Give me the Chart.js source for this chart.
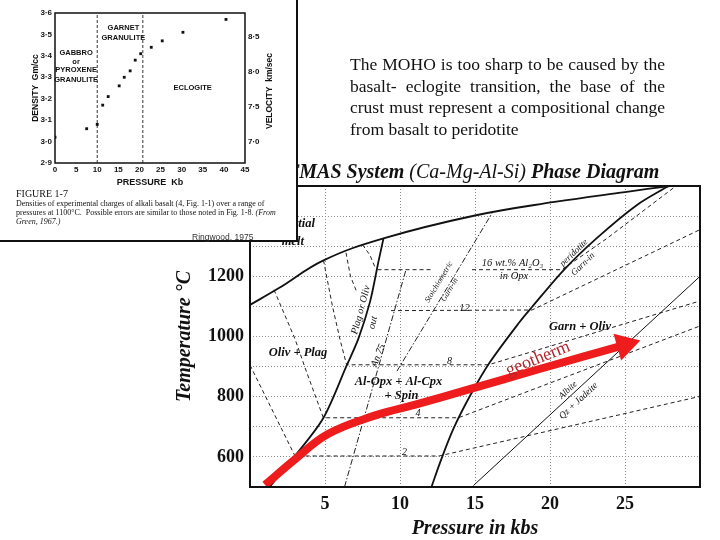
<!DOCTYPE html>
<html>
<head>
<meta charset="utf-8">
<title>MOHO - CMAS phase diagram</title>
<script src="https://cdn.jsdelivr.net/npm/chart.js@4.4.1/dist/chart.umd.min.js"></script>
<style>
  html, body { margin: 0; padding: 0; background: #fff; }
  #page { position: relative; width: 720px; height: 540px; overflow: hidden; font-family: "Liberation Serif", "Times New Roman", serif; color: #111; }
  #phase { position: absolute; left: 0; top: 0; }
  #phaseTitle { position: absolute; left: 286px; top: 161px; font: italic bold 20px/20px "Liberation Serif", serif; white-space: nowrap; }
  #phaseTitle span { font-weight: normal; }
  #note { position: absolute; left: 350px; top: 54px; width: 315px; font-size: 17.5px; line-height: 21.7px; }
  #note div { text-align: justify; text-align-last: justify; }
  #note div.last { text-align-last: left; }
  #inset { position: absolute; left: 0; top: 0; width: 296px; height: 240px; background: #fff; border-right: 2px solid #111; border-bottom: 2px solid #111; }
  #density { position: absolute; left: 0; top: 0; }
  #figNo { position: absolute; left: 16px; top: 188px; font: 10px/12px "Liberation Serif", serif; }
  #caption { position: absolute; left: 16px; top: 199px; font: 8px/9px "Liberation Serif", serif; white-space: nowrap; }
  #credit { position: absolute; left: 192px; top: 232px; font: 8.5px/10px "Liberation Sans", sans-serif; color: #333; }
</style>
</head>
<body>
<div id="page">
  <canvas id="phase" width="720" height="540"></canvas>
  <div id="phaseTitle">CMAS System <span>(Ca-Mg-Al-Si)</span> Phase Diagram</div>
  <div id="note">
    <div>The MOHO is too sharp to be caused by the</div>
    <div>basalt- eclogite transition, the base of the</div>
    <div>crust must represent a compositional change</div>
    <div class="last">from basalt to peridotite</div>
  </div>
  <div id="inset">
    <canvas id="density" width="296" height="190"></canvas>
    <div id="figNo">FIGURE 1-7</div>
    <div id="caption">Densities of experimental charges of alkali basalt (4, Fig. 1-1) over a range of<br>pressures at 1100°C.&nbsp; Possible errors are similar to those noted in Fig. 1-8. <i>(From</i><br><i>Green, 1967.)</i></div>
    <div id="credit">Ringwood, 1975</div>
  </div>
</div>
<script>
const SERIF = '"Liberation Serif", "Times New Roman", serif';
const SANS = '"Liberation Sans", Arial, sans-serif';
const INK = '#111';
const RED = '#ee1c1c';

// inset (Ringwood 1975, fig 1-7): density of alkali basalt vs pressure
const pressureKb = [0, 7.5, 10, 11.3, 12.6, 15.2, 16.4, 17.8, 19, 20.3, 22.8, 25.4, 30.3, 40.5];
const densityGcc = [3.02, 3.06, 3.08, 3.17, 3.21, 3.26, 3.30, 3.33, 3.38, 3.41, 3.44, 3.47, 3.51, 3.57];
const fieldLimitsKb = [10, 20.8];
const velocityTicks = [7.0, 7.5, 8.0, 8.5];

// CMAS phase diagram, [pressure kb, temperature C]
const solidus = [[0, 1105], [1.9, 1160], [4.9, 1253], [8.9, 1326], [15, 1402], [20.3, 1447], [25, 1480], [28, 1500]];
const plagOut = [[8.9, 1326], [8.56, 1248], [8.0, 1115], [7.22, 992], [6.44, 903], [4.89, 729], [3.0, 603], [1.3, 500]];
const garnIn = [[12.1, 500], [12.67, 581], [13.55, 692], [14.67, 803], [16, 915], [18, 1050], [18.8, 1098], [20.9, 1220], [23.1, 1326], [25.8, 1437], [27.9, 1500]];
const albiteOut = [[14.9, 505], [30, 1200]];
const an75 = [[6.3, 500], [10.4, 1222]];
const stoichGarnIn = [[9.8, 885], [16.2, 1415]];
// Al2O3 isopleths in opx, wt%
const iso2 = [[0, 905], [3.0, 603], [12.6, 603], [30, 801]];
const iso4 = [[1.6, 1155], [3.0, 992], [3.7, 892], [4.89, 730], [13.9, 730], [30, 1035]];
const iso8 = [[4.9, 1253], [5.5, 1100], [6.0, 990], [6.44, 906], [15.9, 906], [30, 1118]];
const iso12a = [[6.4, 1278], [6.7, 1200], [7.1, 1150]];
const iso12 = [[9.4, 1086], [18.8, 1088], [30, 1355]];
const iso16a = [[7.5, 1305], [8.0, 1270], [8.35, 1228]];
const iso16 = [[8.5, 1222], [12.1, 1222]];
const iso16b = [[14.8, 1222], [20.8, 1222], [23.8, 1326], [28.4, 1500]];
const geotherm = [[1.0, 507], [3.0, 592], [5.2, 676], [8.3, 737], [11.2, 776], [14.3, 820], [19.3, 892], [25.0, 972]];

const xy = pts => pts.map(([x, y]) => ({x, y}));
const fnt = (style, size, fam) => `${style} ${size}px ${fam || SERIF}`;

// labels drawn on top of the plot, placed in data units
const phaseNotes = [
  {text: 'Partial', at: [3.15, 1374], font: fnt('italic bold', 12.5)},
  {text: 'melt', at: [2.85, 1314], font: fnt('italic bold', 12.5)},
  {text: 'Oliv + Plag', at: [3.2, 945], font: fnt('italic bold', 12.5)},
  {text: 'Al-Opx + Al-Cpx', at: [9.9, 849], font: fnt('italic bold', 12.5)},
  {text: '+ Spin', at: [10.1, 803], font: fnt('italic bold', 12.5)},
  {text: 'Garn + Oliv', at: [22, 1032], font: fnt('italic bold', 12.5)},
  {text: '16 wt.% Al₂O₃', at: [17.5, 1244], font: fnt('italic', 10.5)},
  {text: 'in Opx', at: [17.6, 1199], font: fnt('italic', 10.5)},
  {text: '12', at: [14.3, 1093], font: fnt('italic', 10.5)},
  {text: '8', at: [13.3, 918], font: fnt('italic', 10)},
  {text: '4', at: [11.2, 744], font: fnt('italic', 10)},
  {text: '2', at: [10.3, 616], font: fnt('italic', 10)},
  {text: 'Plag or Oliv', at: [7.4, 1088], rot: -75, font: fnt('italic', 10)},
  {text: 'out', at: [8.2, 1046], rot: -75, font: fnt('italic', 10)},
  {text: 'An 75', at: [8.55, 937], rot: -68, font: fnt('italic', 10)},
  {text: 'Stoichiometric', at: [12.6, 1181], rot: -59, font: fnt('italic', 8)},
  {text: 'Garn-in', at: [13.3, 1155], rot: -59, font: fnt('italic', 8)},
  {text: 'peridotite', at: [21.6, 1278], rot: -44, font: fnt('italic', 9)},
  {text: 'Garn-in', at: [22.2, 1240], rot: -44, font: fnt('italic', 9)},
  {text: 'Albite', at: [21.2, 822], rot: -43, font: fnt('italic', 9)},
  {text: 'Qz + Jadeite', at: [21.9, 786], rot: -43, font: fnt('italic', 9.5)},
  {text: 'geotherm', at: [19.2, 926], rot: -22, font: fnt('', 18), color: '#b3262b'}
];

const densityNotes = [
  {text: 'GARNET', at: [16.2, 3.53]},
  {text: 'GRANULITE', at: [16.2, 3.483]},
  {text: 'GABBRO', at: [5.0, 3.412]},
  {text: 'or', at: [5.0, 3.373]},
  {text: 'PYROXENE', at: [5.0, 3.334]},
  {text: 'GRANULITE', at: [5.0, 3.287]},
  {text: 'ECLOGITE', at: [32.6, 3.249]}
].map(n => Object.assign(n, {font: fnt('bold', 7.5, SANS)}));

// frame round the plot area + free labels
function notesPlugin(id, items, frameWidth, extra) {
  return {
    id,
    afterDatasetsDraw(chart) {
      const {ctx, chartArea: a, scales} = chart;
      ctx.save();
      ctx.lineWidth = frameWidth;
      ctx.strokeStyle = INK;
      ctx.strokeRect(a.left, a.top, a.right - a.left, a.bottom - a.top);
      ctx.textAlign = 'center';
      ctx.textBaseline = 'middle';
      items.forEach(n => {
        ctx.save();
        ctx.translate(scales.x.getPixelForValue(n.at[0]), scales.y.getPixelForValue(n.at[1]));
        ctx.rotate((n.rot || 0) * Math.PI / 180);
        ctx.font = n.font;
        ctx.fillStyle = n.color || INK;
        ctx.fillText(n.text, 0, 0);
        ctx.restore();
      });
      if (extra) extra(chart, ctx);
      ctx.restore();
    }
  };
}

const solidLine = (pts, w, tension) => ({data: xy(pts), showLine: true, borderColor: INK, borderWidth: w, pointRadius: 0, tension: tension || 0});
const dashLine = (pts, dash) => ({data: xy(pts), showLine: true, borderColor: '#222', borderWidth: 1, borderDash: dash || [4, 3], pointRadius: 0, tension: 0});
const DASHDOT = [6, 2, 1.5, 2];

new Chart(document.getElementById('phase'), {
  type: 'scatter',
  data: {
    datasets: [
      {data: xy(geotherm.slice(-1)), order: -2, pointStyle: 'triangle', pointRadius: 16, pointRotation: 74,
        backgroundColor: RED, borderWidth: 0},
      {data: xy(geotherm), order: -1, showLine: true, borderColor: RED, borderWidth: 8, pointRadius: 0, tension: 0.4},
      solidLine(solidus, 1.8, 0.4),
      solidLine(plagOut, 1.8, 0.3),
      solidLine(garnIn, 1.8, 0.3),
      solidLine(albiteOut, 1),
      dashLine(an75, DASHDOT),
      dashLine(stoichGarnIn, DASHDOT),
      dashLine(iso2), dashLine(iso4), dashLine(iso8),
      dashLine(iso12a), dashLine(iso12),
      dashLine(iso16a), dashLine(iso16), dashLine(iso16b)
    ]
  },
  options: {
    responsive: false,
    animation: false,
    events: [],
    layout: {padding: {left: 160, top: 186, right: 20, bottom: 0}},
    plugins: {legend: {display: false}, tooltip: {enabled: false}},
    scales: {
      x: {
        type: 'linear', min: 0, max: 30,
        afterFit: s => { s.height = 53; },
        grid: {color: '#8a8a8a', drawTicks: false},
        border: {display: false, dash: [1, 2]},
        ticks: {stepSize: 5, autoSkip: false, maxRotation: 0, padding: 7, color: INK,
          font: {family: SERIF, size: 18, weight: 'bold'},
          callback: v => (v > 0 && v < 30 ? v : '')},
        title: {display: true, text: 'Pressure in kbs', color: INK, padding: {top: 0, bottom: 1},
          font: {family: SERIF, size: 20, weight: 'bold', style: 'italic', lineHeight: 1}}
      },
      y: {
        min: 500, max: 1500,
        afterFit: s => { s.width = 90; },
        grid: {color: '#8a8a8a', drawTicks: false},
        border: {display: false, dash: [1, 2]},
        ticks: {stepSize: 100, autoSkip: false, padding: 6, color: INK,
          font: {family: SERIF, size: 18, weight: 'bold'},
          callback: v => (v % 200 === 0 && v >= 600 && v <= 1200 ? v : '')},
        title: {display: true, text: 'Temperature °C', color: INK, padding: {top: 15, bottom: 0},
          font: {family: SERIF, size: 20, weight: 'bold', style: 'italic', lineHeight: 1}}
      }
    }
  },
  plugins: [notesPlugin('phaseNotes', phaseNotes, 2)]
});

// right hand axis title reads bottom to top like the left one
function velocityTitle(chart, ctx) {
  const a = chart.chartArea;
  ctx.save();
  ctx.translate(a.right + 25, (a.top + a.bottom) / 2 + 3);
  ctx.rotate(-Math.PI / 2);
  ctx.font = fnt('bold', 8.5, SANS);
  ctx.fillStyle = INK;
  ctx.fillText('VELOCITY  km/sec', 0, 0);
  ctx.restore();
}

const tickFont = {family: SANS, size: 8, weight: 'bold'};
const dotFormat = v => Number(v).toFixed(1).replace('.', '·');
const noGrid = {display: false, drawTicks: false};

new Chart(document.getElementById('density'), {
  type: 'scatter',
  data: {
    datasets: [
      {data: pressureKb.map((p, i) => ({x: p, y: densityGcc[i]})), pointStyle: 'rect', pointRadius: 2,
        backgroundColor: INK, borderWidth: 0},
      ...fieldLimitsKb.map(b => ({data: [{x: b, y: 2.9}, {x: b, y: 3.6}], showLine: true, borderColor: '#333',
        borderWidth: 1, borderDash: [3, 2], pointRadius: 0}))
    ]
  },
  options: {
    responsive: false,
    animation: false,
    events: [],
    layout: {padding: {left: 0, top: 13, right: 0, bottom: 0}},
    plugins: {legend: {display: false}, tooltip: {enabled: false}},
    scales: {
      x: {
        type: 'linear', min: 0, max: 45,
        afterFit: s => { s.height = 27; },
        grid: noGrid,
        border: {display: false},
        ticks: {stepSize: 5, autoSkip: false, maxRotation: 0, padding: 2, color: INK, font: tickFont},
        title: {display: true, text: 'PRESSURE  Kb', color: INK, padding: {top: 0, bottom: 2.5},
          font: {family: SANS, size: 9, weight: 'bold', lineHeight: 1}}
      },
      y: {
        min: 2.9, max: 3.6,
        afterFit: s => { s.width = 55; },
        grid: noGrid,
        border: {display: false},
        ticks: {stepSize: 0.1, autoSkip: false, padding: 3, color: INK, font: tickFont, callback: dotFormat},
        title: {display: true, text: 'DENSITY  Gm/cc', color: INK, padding: {top: 31, bottom: 0},
          font: {family: SANS, size: 8.5, weight: 'bold', lineHeight: 1}}
      },
      y2: {
        position: 'right', min: 6.69, max: 8.833,
        afterFit: s => { s.width = 51; },
        afterBuildTicks: s => { s.ticks = velocityTicks.map(v => ({value: v})); },
        grid: noGrid,
        border: {display: false},
        ticks: {padding: 3, color: INK, font: tickFont, callback: dotFormat}
      }
    }
  },
  plugins: [notesPlugin('densityNotes', densityNotes, 1.5, velocityTitle)]
});
</script>
</body>
</html>
